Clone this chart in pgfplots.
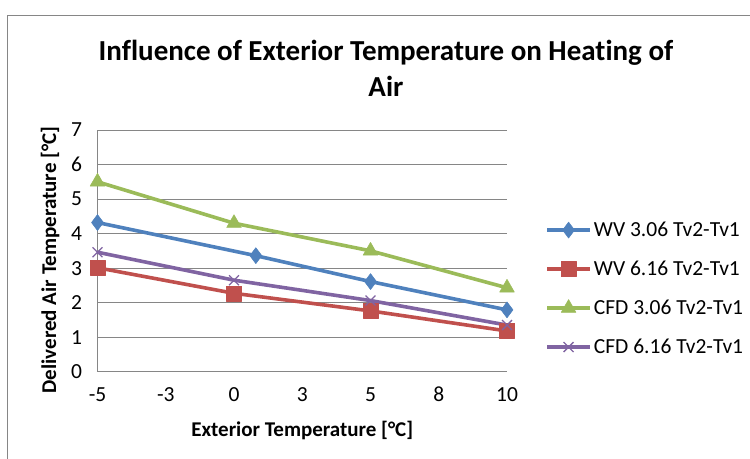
\documentclass[border=0pt]{standalone}
\usepackage{pgfplots}
\pgfplotsset{compat=1.18}
\usepackage{fontspec}
\setmainfont{Carlito}[Ligatures=NoCommon]

\definecolor{wvA}{HTML}{4F81BD}
\definecolor{wvB}{HTML}{C0504D}
\definecolor{cfdA}{HTML}{9BBB59}
\definecolor{cfdB}{HTML}{8064A2}
\definecolor{gridgray}{HTML}{868686}

\begin{document}
\begin{tikzpicture}[x=1bp,y=1bp]
% chart area
\useasboundingbox (0,0) rectangle (750,459);
\draw[gridgray, line width=0.8bp] (7.5,0) -- (7.5,444) -- (750,444);
% chart title (anchored on the baseline of its last line)
\node[font=\fontsize{29bp}{36bp}\selectfont\bfseries, align=center, anchor=base]
  at (386,362.3) {Influence of Exterior Temperature on Heating of\\Air};
% vertical axis title
\node[font=\fontsize{21bp}{24bp}\selectfont\bfseries, rotate=90, anchor=center, inner sep=0pt]
  at (50bp,199bp) {Delivered Air Temperature [°C]};

\begin{axis}[
  at={(97.5bp,87.3bp)}, anchor=south west,
  scale only axis, width=409.5bp, height=241.7bp,
  xmin=-5, xmax=10, ymin=0, ymax=7,
  xtick={-5,-2.5,0,2.5,5,7.5,10},
  xticklabels={-5,-3,0,3,5,8,10},
  ytick={0,1,...,7},
  major tick length=0pt,
  ymajorgrids,
  grid style={gridgray, line width=0.8bp},
  axis x line*=bottom, axis y line*=left,
  axis line style={gridgray, line width=0.8bp, -},
  /pgf/number format/assume math mode=true,
  tick label style={font=\fontsize{21.5bp}{24bp}\selectfont, black},
  xticklabel style={yshift=-12bp},
  yticklabel style={xshift=-12bp},
  xlabel={Exterior Temperature [°C]},
  every axis x label/.style={at={(rel axis cs:0.5,-0.244)}, anchor=center,
    font=\fontsize{21bp}{24bp}\selectfont\bfseries},
  legend style={draw=none, fill=none, at={(rel axis cs:1.093,0.344)}, anchor=west,
    font=\fontsize{21.5bp}{24bp}\selectfont, row sep=19bp, inner sep=0pt,
    /tikz/every even column/.append style={column sep=2bp}},
  legend cell align=left,
  legend image code/.code={
    \draw[mark repeat=2, mark phase=2] plot coordinates {(0bp,0bp) (21.5bp,0bp) (43bp,0bp)};
  },
  every axis plot/.append style={line width=3.6bp, line join=round},
  clip=false,
]
\addplot[wvA, mark=diamond*, mark size=8bp, mark options={solid, line width=0.5bp}]
  coordinates {(-5,4.32) (0.8,3.36) (5,2.61) (10,1.79)};
\addlegendentry{WV 3.06 Tv2-Tv1}
\addplot[wvB, mark=square*, mark size=7.5bp, mark options={solid, line width=0.5bp}]
  coordinates {(-5,3.01) (0,2.27) (5,1.76) (10,1.18)};
\addlegendentry{WV 6.16 Tv2-Tv1}
\addplot[cfdA, mark=triangle*, mark size=8.5bp, mark options={solid, line width=0.5bp}]
  coordinates {(-5,5.50) (0,4.30) (5,3.50) (10,2.43)};
\addlegendentry{CFD 3.06 Tv2-Tv1}
\addplot[cfdB, mark=x, mark size=7bp, mark options={solid, line width=1.3bp}]
  coordinates {(-5,3.46) (0,2.65) (5,2.06) (10,1.35)};
\addlegendentry{CFD 6.16 Tv2-Tv1}
\end{axis}
\end{tikzpicture}
\end{document}
